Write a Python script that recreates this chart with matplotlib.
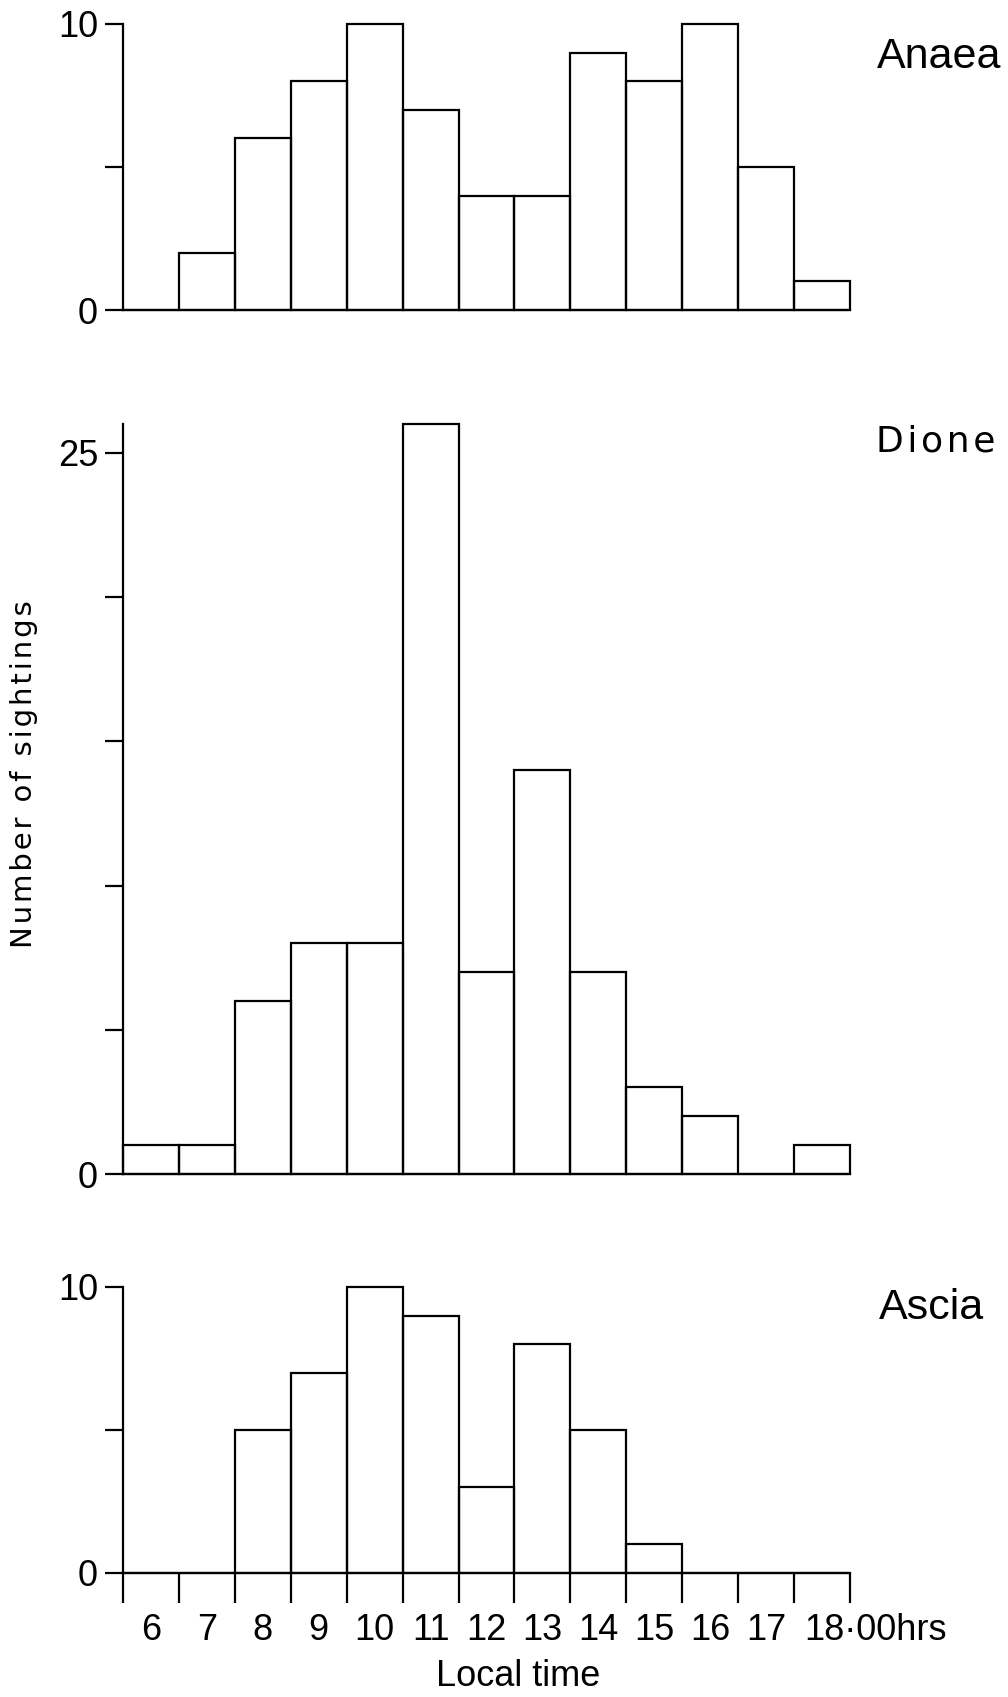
import matplotlib
matplotlib.use("Agg")
import matplotlib.pyplot as plt
import matplotlib.transforms as mtransforms
from matplotlib import font_manager

# hourly bins, labelled by the hour
hours = [6, 7, 8, 9, 10, 11, 12, 13, 14, 15, 16, 17, 18]
hour_labels = ["6", "7", "8", "9", "10", "11", "12", "13", "14", "15", "16", "17", "18\u00b700hrs"]

# number of sightings per hour
anaea = [0, 2, 6, 8, 10, 7, 4, 4, 9, 8, 10, 5, 1]
dione = [1, 1, 6, 8, 8, 26, 7, 14, 7, 3, 2, 0, 1]
ascia = [0, 0, 5, 7, 10, 9, 3, 8, 5, 1, 0, 0, 0]

names = {f.name for f in font_manager.fontManager.ttflist}
narrow = "Liberation Sans Narrow" if "Liberation Sans Narrow" in names else "Liberation Sans"
wide = "Liberation Sans"

W, H = 1008, 1697
fig = plt.figure(figsize=(W / 100, H / 100), dpi=100)
lw = 1.6


def rect(x0, x1, ytop, ybot):
    # pixel box -> figure fraction
    return [x0 / W, 1 - ybot / H, (x1 - x0) / W, (ybot - ytop) / H]


def panel(box, counts, ymax, yticks, ylabels, yfont):
    ax = fig.add_axes(box)
    ax.bar(hours, counts, width=1.0, fill=False, edgecolor="black",
           linewidth=lw, clip_on=False)
    ax.set_xlim(hours[0] - 0.5, hours[-1] + 0.5)
    ax.set_ylim(0, ymax)
    for s in ["top", "right"]:
        ax.spines[s].set_visible(False)
    for s in ["left", "bottom"]:
        ax.spines[s].set_linewidth(lw)
    ax.set_yticks(yticks)
    ax.set_yticklabels(ylabels, fontsize=26, family=yfont)
    ax.tick_params(axis="y", length=13, width=lw, pad=5)
    ax.set_xticks([])
    return ax


ax1 = panel(rect(123, 850, 24, 310), anaea, 10, [0, 5, 10], ["0", "", "10"], narrow)
ax2 = panel(rect(123, 850, 424, 1174), dione, 26, [0, 5, 10, 15, 20, 25],
            ["0", "", "", "", "", "25"], wide)
ax3 = panel(rect(123, 850, 1287, 1573), ascia, 10, [0, 5, 10], ["0", "", "10"], narrow)

# bin edge ticks and hour labels on the bottom panel
edges = [h - 0.5 for h in hours] + [hours[-1] + 0.5]
ax3.set_xticks(edges)
ax3.set_xticklabels([])
ax3.set_xticks(hours, minor=True)
ax3.set_xticklabels(hour_labels, minor=True, fontsize=26, family=narrow)
ax3.tick_params(axis="x", which="major", length=21.5, width=lw, direction="out")
ax3.tick_params(axis="x", which="minor", length=0, pad=29)
last = ax3.get_xticklabels(minor=True)[-1]
last.set_ha("left")
last.set_transform(last.get_transform() +
                   mtransforms.ScaledTranslation(-18 / 100, 0, fig.dpi_scale_trans))

fig.text(518 / W, 1 - 1677 / H, "Local time", fontsize=26, family=narrow,
         ha="center", va="center")
fig.text(24 / W, 1 - 774 / H, "\u200a".join("Number of sightings"), fontsize=21,
         family="DejaVu Sans", rotation=90, ha="center", va="center")

fig.text(877 / W, 1 - 57 / H, "Anaea", fontsize=31, family=narrow, ha="left", va="center")
fig.text(876 / W, 1 - 442 / H, "\u200a".join("Dione"), fontsize=26, family="DejaVu Sans",
         ha="left", va="center")
fig.text(879 / W, 1 - 1308 / H, "Ascia", fontsize=31, family=narrow, ha="left", va="center")

fig.savefig("out.png", dpi=100)
